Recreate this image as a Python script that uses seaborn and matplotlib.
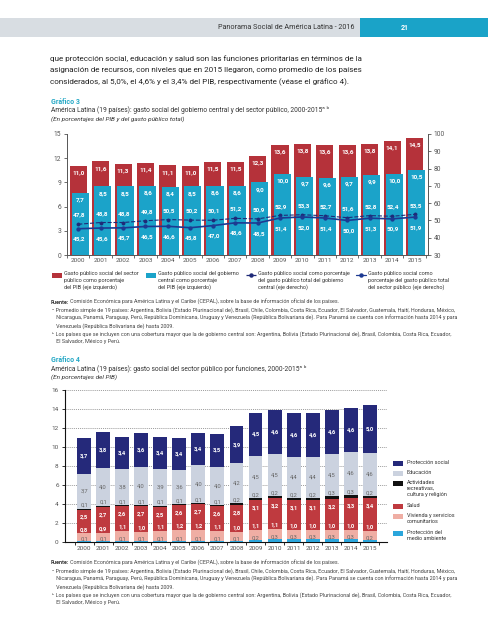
import numpy as np
import pandas as pd
import matplotlib
matplotlib.use("Agg")
import matplotlib.pyplot as plt
from matplotlib.patches import Rectangle
from matplotlib.lines import Line2D
import seaborn as sns

# ---- data ----
years = [str(y) for y in range(2000, 2016)]

# Gráfico 3 (porcentajes del PIB, eje izquierdo)
sector_publico_pib = [11.0, 11.6, 11.3, 11.4, 11.1, 11.0, 11.5, 11.5, 12.3, 13.6, 13.8, 13.6, 13.6, 13.8, 14.1, 14.5]
gobierno_central_pib = [7.7, 8.5, 8.5, 8.6, 8.4, 8.5, 8.6, 8.6, 9.0, 10.0, 9.7, 9.6, 9.7, 9.9, 10.0, 10.5]
# Gráfico 3 (porcentajes del gasto público total, eje derecho)
gc_pct_gasto = [47.8, 48.8, 48.8, 49.8, 50.5, 50.2, 50.1, 51.2, 50.9, 52.9, 53.3, 52.7, 51.6, 52.8, 52.4, 53.5]
sp_pct_gasto = [45.2, 45.6, 45.7, 46.5, 46.6, 45.8, 47.0, 48.6, 48.5, 51.4, 52.0, 51.4, 50.0, 51.3, 50.9, 51.9]

# Gráfico 4 (porcentajes del PIB, por funciones)
medio_ambiente = [0.1, 0.1, 0.1, 0.1, 0.1, 0.1, 0.1, 0.1, 0.1, 0.2, 0.3, 0.3, 0.3, 0.3, 0.3, 0.2]
vivienda = [0.8, 0.9, 1.1, 1.0, 1.1, 1.2, 1.2, 1.1, 1.0, 1.1, 1.1, 1.0, 1.0, 1.0, 1.0, 1.0]
salud = [2.5, 2.7, 2.6, 2.7, 2.5, 2.6, 2.7, 2.6, 2.8, 3.1, 3.2, 3.1, 3.1, 3.2, 3.3, 3.4]
recreacion = [0.1, 0.1, 0.1, 0.1, 0.1, 0.1, 0.1, 0.1, 0.2, 0.2, 0.2, 0.2, 0.2, 0.3, 0.3, 0.2]
educacion = [3.7, 4.0, 3.8, 4.0, 3.9, 3.6, 4.0, 4.0, 4.2, 4.5, 4.5, 4.4, 4.4, 4.5, 4.6, 4.6]
proteccion_social = [3.7, 3.8, 3.4, 3.6, 3.4, 3.4, 3.4, 3.5, 3.9, 4.5, 4.6, 4.6, 4.6, 4.6, 4.6, 5.0]

funciones = ["Protección del\nmedio ambiente", "Vivienda y servicios\ncomunitarios", "Salud",
             "Actividades\nrecreativas,\ncultura y religión", "Educación", "Protección social"]

# ---- colours ----
RED = "#b5323a"
CYAN = "#1ba3c9"
NAVY = "#1f2a78"
C_ENV = "#2ba6dc"
C_VIV = "#efaea4"
C_SAL = "#bf3a3f"
C_REC = "#111111"
C_EDU = "#cbd2df"
C_PROT = "#25297a"
GREY = "#555555"
TEAL = "#27a9c6"

sns.set_theme(style="white")
plt.rcParams["font.family"] = ["Roboto", "DejaVu Sans"]

W, H = 489, 640
fig = plt.figure(figsize=(W / 100, H / 100), dpi=100)


def fx(px):
    return px / W


def fy(py):
    return 1 - py / H


def fmt(v):
    return f"{v:.1f}".replace(".", ",")


# ---- page header ----
fig.add_artist(Rectangle((0, fy(37)), fx(360), (37 - 18) / H, transform=fig.transFigure,
                         color="#d8dde2", lw=0))
fig.add_artist(Rectangle((fx(360), fy(37)), 1 - fx(360), (37 - 18) / H, transform=fig.transFigure,
                         color="#1aa3c8", lw=0))
fig.text(fx(354), fy(27.5), "Panorama Social de América Latina - 2016", ha="right", va="center",
         fontsize=5.2, color="#333333")
fig.text(fx(405), fy(27.5), "21", ha="center", va="center", fontsize=5, color="white", fontweight="bold")

paragraph = ["que protección social, educación y salud son las funciones prioritarias en términos de la",
             "asignación de recursos, con niveles que en 2015 llegaron, como promedio de los países",
             "considerados, al 5,0%, el 4,6% y el 3,4% del PIB, respectivamente (véase el gráfico 4)."]
for i, line in enumerate(paragraph):
    fig.text(fx(50.5), fy(58.5 + 11.7 * i), line, ha="left", va="center", fontsize=5.75, color="#222222")

notes = [
    "ᵃ Promedio simple de 19 países: Argentina, Bolivia (Estado Plurinacional de), Brasil, Chile, Colombia, Costa Rica, Ecuador, El Salvador, Guatemala, Haití, Honduras, México,",
    "   Nicaragua, Panamá, Paraguay, Perú, República Dominicana, Uruguay y Venezuela (República Bolivariana de). Para Panamá se cuenta con información hasta 2014 y para",
    "   Venezuela (República Bolivariana de) hasta 2009.",
    "ᵇ Los países que se incluyen con una cobertura mayor que la de gobierno central son: Argentina, Bolivia (Estado Plurinacional de), Brasil, Colombia, Costa Rica, Ecuador,",
    "   El Salvador, México y Perú.",
]


def chart_header(y0, num, title, subtitle):
    fig.text(fx(51), fy(y0), f"Gráfico {num}", fontsize=5, color=TEAL, va="center", fontweight="bold")
    fig.text(fx(51), fy(y0 + 8.5), title, fontsize=4.75, color="#333333", va="center")
    fig.text(fx(51), fy(y0 + 17), subtitle, fontsize=4.6, color="#333333", va="center", style="italic")


def chart_notes(y0):
    fig.text(fx(51), fy(y0), "Fuente:", fontsize=3.9, color="#333333", va="center", fontweight="bold")
    fig.text(fx(70), fy(y0), "Comisión Económica para América Latina y el Caribe (CEPAL), sobre la base de información oficial de los países.",
             fontsize=3.9, color="#444444", va="center")
    for i, line in enumerate(notes):
        fig.text(fx(52), fy(y0 + 8 + 7.9 * i), line, fontsize=3.9, color="#444444", va="center")


# ================= Gráfico 3 =================
chart_header(102, 3,
             "América Latina (19 países): gasto social del gobierno central y del sector público, 2000-2015ᵃ ᵇ",
             "(En porcentajes del PIB y del gasto público total)")

ax3 = fig.add_axes([fx(67), fy(255), fx(428) - fx(67), (255 - 134) / H])
df3 = pd.DataFrame({"year": years, "sp": sector_publico_pib, "gc": gobierno_central_pib,
                    "gc_pct": gc_pct_gasto, "sp_pct": sp_pct_gasto})
sns.barplot(data=df3, x="year", y="sp", color=RED, saturation=1, width=0.76, linewidth=0, ax=ax3)
n_red = len(ax3.patches)
sns.barplot(data=df3, x="year", y="gc", color=CYAN, saturation=1, width=0.76, linewidth=0, ax=ax3)
for p in ax3.patches[n_red:]:
    p.set_x(p.get_x() + 0.1)

for p, v in zip(ax3.patches[:n_red], sector_publico_pib):
    ax3.annotate(fmt(v), (p.get_x() + p.get_width() / 2, v), xytext=(0, -5), textcoords="offset points",
                 ha="center", va="center", fontsize=4.6, color="white", fontweight="bold")
for p, v in zip(ax3.patches[n_red:], gobierno_central_pib):
    ax3.annotate(fmt(v), (p.get_x() + p.get_width() / 2, v), xytext=(0, -5), textcoords="offset points",
                 ha="center", va="center", fontsize=4.6, color="white", fontweight="bold")

ax3r = ax3.twinx()
sns.pointplot(data=df3, x="year", y="gc_pct", color=NAVY, linestyles="--", markers="o",
              markersize=2.2, linewidth=0.8, ax=ax3r)
sns.pointplot(data=df3, x="year", y="sp_pct", color="#1d3a92", linestyles="-", markers="o",
              markersize=2.2, linewidth=1.2, ax=ax3r)
for i, (a, b) in enumerate(zip(gc_pct_gasto, sp_pct_gasto)):
    ax3r.annotate(fmt(a), (i + 0.05, a), xytext=(0, 6.5), textcoords="offset points", ha="center",
                  va="center", fontsize=4.6, color="white", fontweight="bold")
    ax3r.annotate(fmt(b), (i + 0.05, b), xytext=(0, -7.5), textcoords="offset points", ha="center",
                  va="center", fontsize=4.6, color="white", fontweight="bold")

ax3.set_xlim(-0.4, 15.6)
ax3r.set_xlim(-0.4, 15.6)
ax3.set_ylim(0, 15)
ax3r.set_ylim(30, 100)
ax3.set_yticks(range(0, 16, 3))
ax3r.set_yticks(range(30, 101, 10))
ax3.set_xlabel("")
ax3.set_ylabel("")
ax3r.set_xlabel("")
ax3r.set_ylabel("")
ax3.set_xticks(range(16))
ax3.set_xticklabels(years)
ax3.set_xticks(np.arange(-0.5, 16, 1), minor=True)
for a in (ax3, ax3r):
    for s in a.spines.values():
        s.set_visible(False)
ax3.spines["left"].set_visible(True)
ax3.spines["bottom"].set_visible(True)
ax3r.spines["right"].set_visible(True)
for s in (ax3.spines["left"], ax3.spines["bottom"], ax3r.spines["right"]):
    s.set_color("#555555")
    s.set_linewidth(0.7)
ax3.tick_params(axis="x", which="major", length=0, labelsize=4.6, labelcolor=GREY, pad=2.5)
ax3.tick_params(axis="x", which="minor", length=2, width=0.6, color="#555555", bottom=True)
ax3.tick_params(axis="y", length=2, width=0.6, color="#555555", labelsize=4.8, labelcolor=GREY, pad=2, left=True)
ax3r.tick_params(axis="y", length=2, width=0.6, color="#555555", labelsize=4.8, labelcolor=GREY, pad=2, right=True)
ax3r.grid(False)
ax3.grid(False)

# legend of Gráfico 3, drawn by hand to keep the handle on the first text line
leg3 = [
    ("patch", RED, "Gasto público social del sector\npúblico como porcentaje\ndel PIB (eje izquierdo)", 52),
    ("patch", CYAN, "Gasto público social del gobierno\ncentral como porcentaje\ndel PIB (eje izquierdo)", 146),
    ("dash", NAVY, "Gasto público social como porcentaje\ndel gasto público total del gobierno\ncentral (eje derecho)", 246),
    ("solid", "#1d3a92", "Gasto público social como\nporcentaje del gasto público total\ndel sector público (eje derecho)", 356),
]
for kind, col, label, x0 in leg3:
    if kind == "patch":
        fig.add_artist(Rectangle((fx(x0), fy(277.5)), 10 / W, 5 / H, transform=fig.transFigure, color=col, lw=0))
    else:
        fig.add_artist(Line2D([fx(x0), fx(x0 + 10)], [fy(275), fy(275)], transform=fig.transFigure, color=col,
                              lw=0.9, ls="--" if kind == "dash" else "-"))
        fig.add_artist(Line2D([fx(x0 + 5)], [fy(275)], transform=fig.transFigure, color=col, marker="o",
                              markersize=2.2))
    fig.text(fx(x0 + 12.5), fy(271.5), label, fontsize=3.95, color="#333333", va="top", linespacing=1.35)

chart_notes(302)

# ================= Gráfico 4 =================
chart_header(360.5, 4,
             "América Latina (19 países): gasto social del sector público por funciones, 2000-2015ᵃ ᵇ",
             "(En porcentajes del PIB)")

ax4 = fig.add_axes([fx(65), fy(542), fx(387) - fx(65), (542 - 390) / H])
layers = [medio_ambiente, vivienda, salud, recreacion, educacion, proteccion_social]
colors4 = [C_ENV, C_VIV, C_SAL, C_REC, C_EDU, C_PROT]
cum = np.cumsum(np.array(layers), axis=0)
df4 = pd.DataFrame({"year": years})
for k in range(len(layers)):
    df4[f"c{k}"] = cum[k]

# stacked look: draw cumulative totals from the top layer down
for k in range(len(layers) - 1, -1, -1):
    sns.barplot(data=df4, x="year", y=f"c{k}", color=colors4[k], saturation=1, width=0.73, linewidth=0,
                ax=ax4, zorder=3)

for i in range(len(years)):
    c = cum[:, i]
    ax4.text(i, medio_ambiente[i] + 0.22, fmt(medio_ambiente[i]), ha="center", va="center", fontsize=4.2,
             color="#666666", zorder=5)
    ax4.text(i, c[1] + 0.38, fmt(vivienda[i]), ha="center", va="center", fontsize=4.2, color="white",
             fontweight="bold", zorder=5)
    ax4.text(i, c[2] - 0.8, fmt(salud[i]), ha="center", va="center", fontsize=4.2, color="white",
             fontweight="bold", zorder=5)
    ax4.text(i, c[3] + 0.35, fmt(recreacion[i]), ha="center", va="center", fontsize=4.2, color="#666666",
             zorder=5)
    ax4.text(i, (c[3] + c[4]) / 2, fmt(educacion[i]), ha="center", va="center", fontsize=4.2,
             color="#666666", zorder=5)
    ax4.text(i, (c[4] + c[5]) / 2, fmt(proteccion_social[i]), ha="center", va="center", fontsize=4.2,
             color="white", fontweight="bold", zorder=5)

ax4.set_xlim(-1.0, 15.9)
ax4.set_ylim(0, 16)
ax4.set_yticks(range(0, 17, 2))
ax4.set_xlabel("")
ax4.set_ylabel("")
ax4.set_xticks(range(16))
ax4.set_xticklabels(years)
ax4.set_xticks(np.arange(-0.5, 16, 1), minor=True)
ax4.yaxis.grid(True, linestyle=(0, (1.5, 1.5)), color="#777777", linewidth=0.5, zorder=0)
ax4.set_axisbelow(True)
for s in ax4.spines.values():
    s.set_visible(False)
ax4.spines["left"].set_visible(True)
ax4.spines["bottom"].set_visible(True)
for s in (ax4.spines["left"], ax4.spines["bottom"]):
    s.set_color("#111111")
    s.set_linewidth(0.8)
ax4.tick_params(axis="x", which="major", length=0, labelsize=4.6, labelcolor=GREY, pad=3)
ax4.tick_params(axis="x", which="minor", length=2, width=0.6, color="#111111", bottom=True)
ax4.tick_params(axis="y", length=2.5, width=0.6, color="#111111", labelsize=4.6, labelcolor=GREY, pad=2, left=True)

# legend of Gráfico 4 (top entry first)
leg4_y = [463, 473, 483, 506, 516, 533]
for (lab, col), y0 in zip(zip(funciones[::-1], colors4[::-1]), leg4_y):
    fig.add_artist(Rectangle((fx(393), fy(y0 + 2.5)), 10 / W, 5 / H, transform=fig.transFigure, color=col, lw=0))
    fig.text(fx(407), fy(y0 - 3.3), lab, fontsize=4.0, color="#333333", va="top", linespacing=1.25)

chart_notes(563)

fig.savefig("out.png", dpi=100)
